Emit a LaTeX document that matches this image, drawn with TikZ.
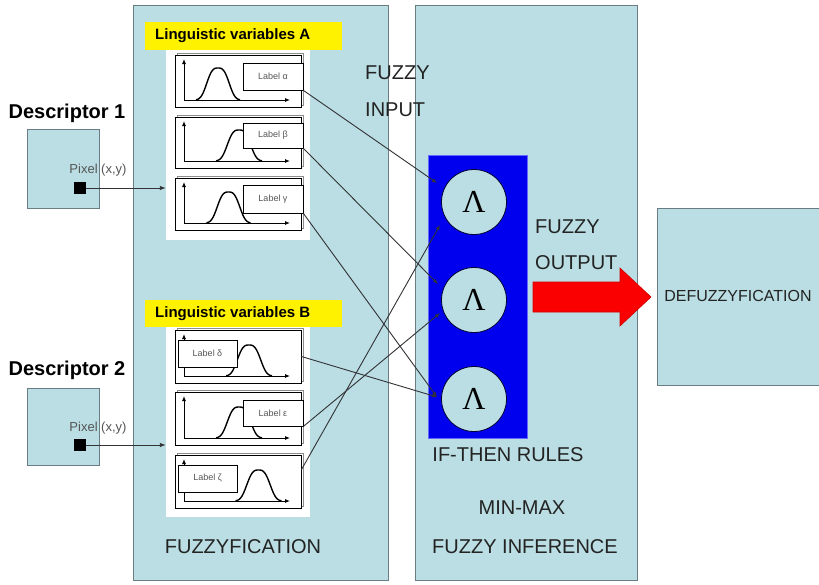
\documentclass[tikz,border=0pt]{standalone}
\usepackage{fontspec}
\setmainfont{Liberation Sans}
\newfontfamily\greekserif{Liberation Serif}
\usetikzlibrary{arrows.meta,calc,fit}
\definecolor{panel}{RGB}{186,222,227}
\definecolor{panelline}{RGB}{105,125,130}
\definecolor{txt}{RGB}{35,35,35}
\definecolor{rulesblue}{RGB}{0,0,238}
\definecolor{conn}{RGB}{50,50,55}
\definecolor{lbltxt}{RGB}{85,85,85}
\definecolor{arrowred}{RGB}{250,0,0}
\newcommand\fsz[1]{\fontsize{#1}{#1}\selectfont}
\newcommand\bellcurve[4]{% center x, peak y, baseline y, width parameter
  \draw[bellline] plot[domain=-1.7*#4:1.7*#4, samples=60, smooth] ({#1+\x}, {#3-(#3-#2)*exp(-(abs(\x)/#4)^3)});}
\newcommand\axespair[3]{% left x, baseline y, top y
  \draw[axisline] (#1,#2) -- (#1,#3);
  \draw[axisline] (#1,#2) -- (#1+106,#2);}
\tikzset{
  panelbox/.style={draw=panelline, fill=panel, line width=1pt, inner sep=0pt},
  whitebox/.style={fill=white, draw=none, inner sep=0pt},
  yellowbox/.style={fill=yellow, draw=none, inner sep=0pt},
  subbox/.style={draw=black, fill=white, line width=0.9pt, inner sep=0pt},
  lblbox/.style={draw=black, fill=white, line width=0.8pt, inner sep=0pt},
  shadowbox/.style={draw=black!45, line width=0.6pt},
  bellline/.style={black, line width=1.4pt},
  axisline/.style={black, line width=0.9pt, -{Latex[length=5pt,width=4pt]}},
  lbltext/.style={text=lbltxt, font=\fsz{9}, inner sep=0pt},
  bigtext/.style={text=txt, font=\fsz{20}, inner sep=0pt},
  desctext/.style={text=black, font=\bfseries\fsz{20}, inner sep=0pt},
  yellowtext/.style={text=black, font=\bfseries\fsz{15}, inner sep=0pt, anchor=west},
  pixeltext/.style={text=lbltxt, font=\fsz{13}, inner sep=0pt},
  rulecircle/.style={circle, draw=black!80!blue, line width=0.8pt, fill=panel, minimum size=65pt, inner sep=0pt, font=\greekserif\fsz{32}},
  conline/.style={conn, line width=0.9pt, -{Latex[length=5pt,width=4pt]}},
  pixarrow/.style={conn, line width=0.9pt, -{Latex[length=6pt,width=4.5pt]}}
}
\begin{document}
\begin{tikzpicture}[x=1pt,y=-1pt]
\clip (0,0) rectangle (819,584);
\fill[white] (0,0) rectangle (819,584);

% main panels
\node[panelbox, fit={(133,5) (388,580)}] (fuzz) {};
\node[panelbox, fit={(415,5) (637,580)}] (infer) {};
\node[panelbox, fit={(657,208) (830,385)}] (defuzz) {};

% descriptors
\node[panelbox, fit={(27,129) (99,208)}] (d1) {};
\node[panelbox, fit={(27,388) (99,465)}] (d2) {};
\node[fill=black, minimum size=12pt, inner sep=0pt] (p1) at (80,188) {};
\node[fill=black, minimum size=12pt, inner sep=0pt] (p2) at (80,445) {};
\node[desctext] (d1t) at (67,113) {Descriptor 1};
\node[desctext] (d2t) at (67,370) {Descriptor 2};
\node[pixeltext] (p1t) at (98,170) {Pixel (x,y)};
\node[pixeltext] (p2t) at (98,428) {Pixel (x,y)};

% linguistic variables A
\node[whitebox, fit={(166,48) (310,240)}] (wa) {};
\node[yellowbox, fit={(145,22) (342,50)}] (ya) {};
\node[yellowtext] (yat) at (155,36) {Linguistic variables A};
% linguistic variables B
\node[whitebox, fit={(166,327) (310,517)}] (wb) {};
\node[yellowbox, fit={(145,300) (342,327)}] (yb) {};
\node[yellowtext] (ybt) at (155,314) {Linguistic variables B};

% sub boxes with shadows
\foreach \nm/\ya/\yb in {a1/55/107, a2/117/168, a3/178/230, b1/330/383, b2/392/445, b3/455/508}{
  \draw[shadowbox] (177,\ya-2) rectangle (303,\yb-2);
  \node[subbox, fit={(175,\ya) (301,\yb)}] (\nm) {};
}
% axes and curves
\axespair{184}{100}{59}
\bellcurve{218}{68}{100}{13}
\axespair{184}{161}{121}
\bellcurve{239}{130}{161}{13.5}
\axespair{184}{223}{182}
\bellcurve{228.5}{192}{223}{13}
\axespair{184}{376}{334}
\bellcurve{249}{345}{376}{13.5}
\axespair{184}{438}{396}
\bellcurve{239}{407}{438}{13.5}
\axespair{184}{501}{459}
\bellcurve{258.5}{470}{501}{13.5}

% label boxes
\foreach \nm/\xa/\ya/\xb/\yb/\g in {la/243/63/303/90/α, lb/243/123/303/148/β, lg/243/185/303/213/γ, ld/178/340/237/367/δ, le/243/400/303/426/ε, lz/178/465/237/492/ζ}{
  \node[lblbox, fit={(\xa,\ya) (\xb,\yb)}] (\nm) {};
  \node[lbltext] at (\nm.center) {Label \g};
}

% pixel arrows
\draw[pixarrow] (p1.east) -- (p1 -| wa.west);
\draw[pixarrow] (p2.east) -- (p2 -| wb.west);

% rules block
\node[fill=rulesblue, draw=blue!60!white, line width=0.6pt, inner sep=0pt, fit={(428,155) (527,438)}] (rules) {};
\node[rulecircle] (c1) at (474,202) {Λ};
\node[rulecircle] (c2) at (474,300) {Λ};
\node[rulecircle] (c3) at (474,399) {Λ};
\coordinate (c1a) at ($(c1)+(-37,-19)$);
\coordinate (c1b) at ($(c1)+(-34,23)$);
\coordinate (c2a) at ($(c2)+(-36,-16)$);
\coordinate (c2b) at ($(c2)+(-34,13)$);
\coordinate (c3a) at ($(c3)+(-37,-2)$);

% connectors
\draw[conline] (la.south east) -- (c1a);
\draw[conline] (lb.south east) -- (c2a);
\draw[conline] (lg.south east) -- (c3a);
\draw[conline] (b1.east) -- (c3a);
\draw[conline] (le.south east) -- (c2b);
\draw[conline] ($(b3.north east)!0.28!(b3.south east)$) -- (c1b);

% output arrow
\draw[fill=arrowred, draw=red!80!black, line width=0.6pt] (533,282) -- (620,282) -- (620,268) -- (651,297) -- (620,326) -- (620,312) -- (533,312) -- cycle;

% texts
\node[bigtext, anchor=west] (fi1) at (365,73) {FUZZY};
\node[bigtext, anchor=west] (fi2) at (365,110) {INPUT};
\node[bigtext, anchor=west] (fo1) at (535,227) {FUZZY};
\node[bigtext, anchor=west] (fo2) at (535,263) {OUTPUT};
\node[bigtext] (ifthen) at (508,455) {IF-THEN RULES};
\node[bigtext] (minmax) at (522,508) {MIN-MAX};
\node[bigtext] (finf) at (525,547) {FUZZY INFERENCE};
\node[bigtext] (fuzzt) at (243,547) {FUZZYFICATION};
\node[text=txt, font=\fsz{16}, inner sep=0pt] (defuzzt) at (738,296) {DEFUZZYFICATION};
\end{tikzpicture}
\end{document}
